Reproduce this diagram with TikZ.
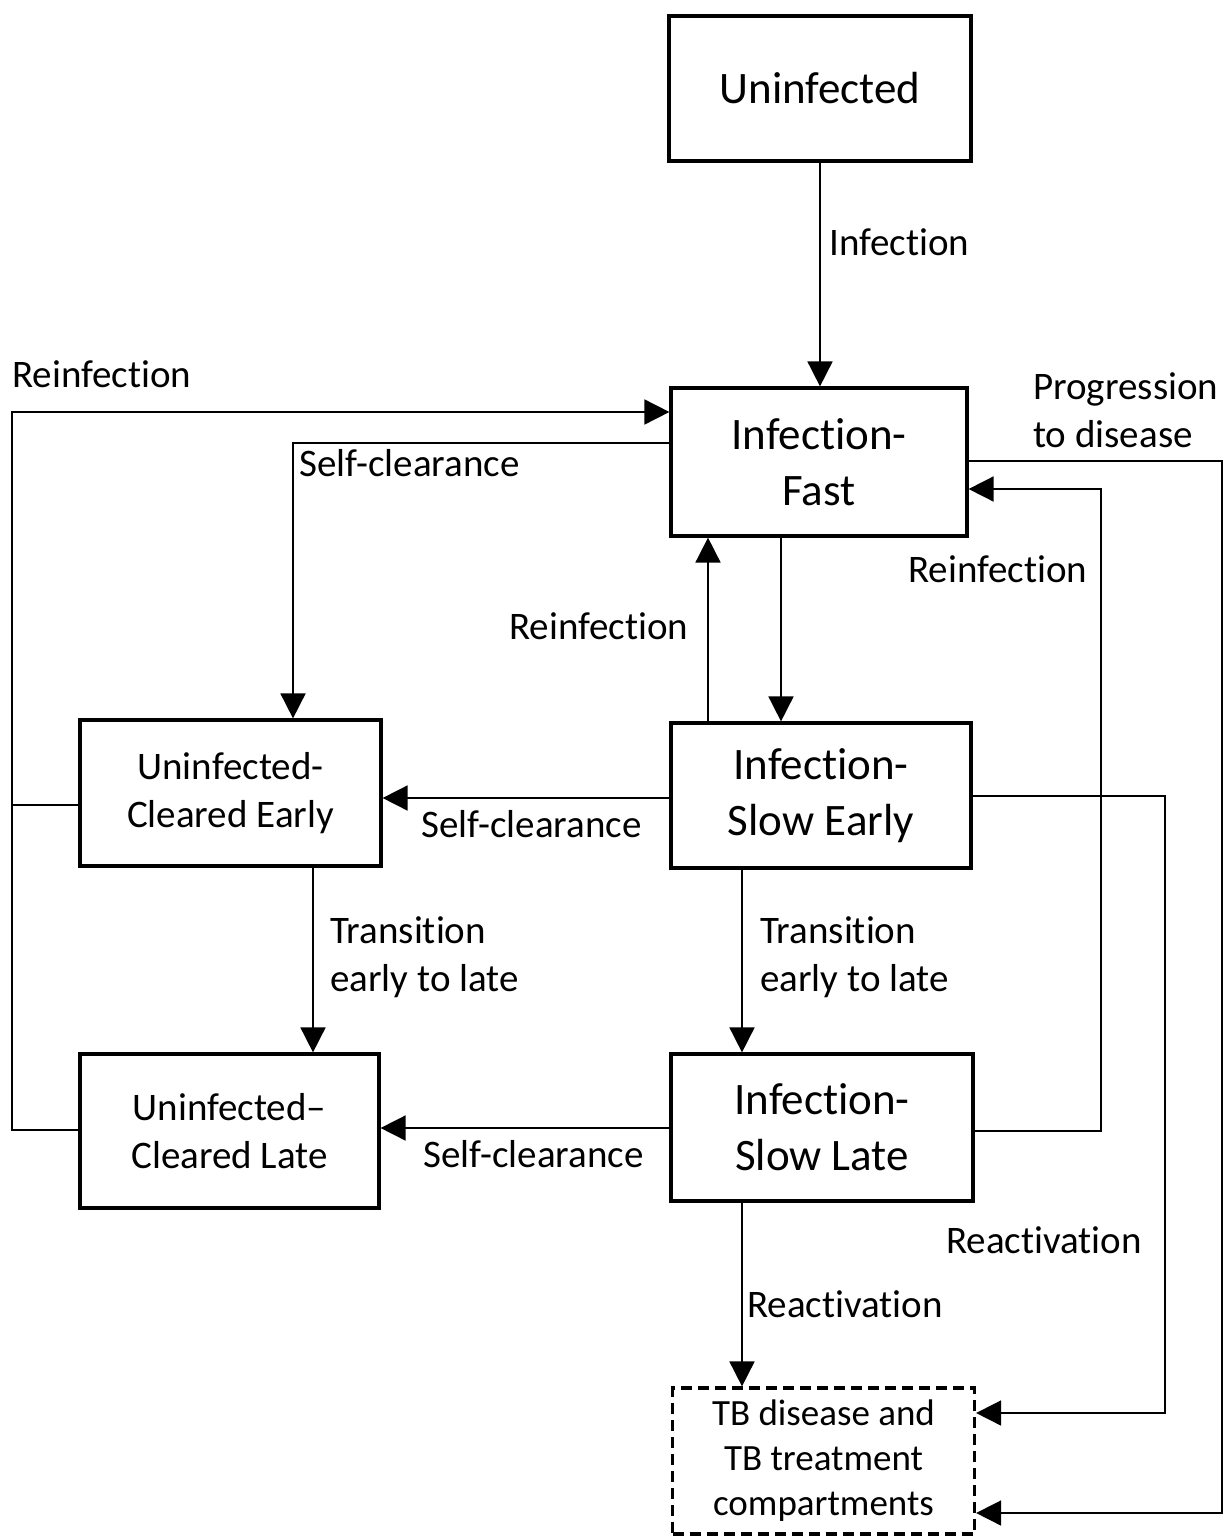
\documentclass[tikz,border=0pt]{standalone}
\usepackage{fontspec}
\setmainfont{Carlito}[Ligatures=NoCommon]
\usetikzlibrary{arrows.meta}
\begin{document}
\begin{tikzpicture}[x=1pt,y=-1pt,
  box/.style={draw,line width=3.2pt,inner sep=0pt,align=center},
  bigbox/.style={box,font=\fontsize{45}{56}\selectfont},
  smallbox/.style={box,font=\fontsize{39}{48}\selectfont},
  tbbox/.style={box,dash pattern=on 11pt off 6pt,font=\fontsize{37}{45}\selectfont},
  lbl/.style={inner sep=0pt,anchor=west,align=left,font=\fontsize{39}{48}\selectfont},
  line/.style={line width=1.7pt},
  arr/.style={line,-{Triangle[length=25pt,width=25pt]}}]
\useasboundingbox (0,0) rectangle (1226,1536);
% nodes
\node[bigbox,minimum width=302pt,minimum height=145pt] (U) at (820,88.5) {Uninfected};
\node[bigbox,minimum width=296pt,minimum height=148pt] (F) at (819,462) {Infection-\\Fast};
\node[smallbox,minimum width=301pt,minimum height=146pt] (CE) at (230.5,793) {Uninfected-\\Cleared Early};
\node[bigbox,minimum width=300pt,minimum height=145pt] (SE) at (821,795.5) {Infection-\\Slow Early};
\node[smallbox,minimum width=299pt,minimum height=154pt] (CL) at (229.5,1131) {Uninfected--\\Cleared Late};
\node[bigbox,minimum width=302pt,minimum height=147pt] (SL) at (822,1127.5) {Infection-\\Slow Late};
\node[tbbox,minimum width=302pt,minimum height=146pt] (TB) at (823.5,1461) {TB disease and\\TB treatment\\compartments};
% helper coordinates
\coordinate (L) at (12,412);
\coordinate (yA) at (0,805);
\coordinate (yB) at (0,1130);
\coordinate (yC) at (0,443);
\coordinate (xC) at (293,0);
\coordinate (x781) at (781,0);
\coordinate (x708) at (708,0);
\coordinate (y798) at (0,798);
\coordinate (x313) at (313,0);
\coordinate (x742) at (742,0);
\coordinate (y1128) at (0,1128);
\coordinate (y1131) at (0,1131);
\coordinate (R1) at (1101,489);
\coordinate (R2) at (1165,796);
\coordinate (y1413) at (0,1413);
\coordinate (R3) at (1222,461);
\coordinate (y1513) at (0,1513);
% connectors
\draw[arr] (U.south) -- (U.south |- F.north);
\draw[line] (CE.west |- yA) -- (L |- yA);
\draw[arr] (CL.west |- yB) -- (L |- yB) -- (L) -- (F.west |- L);
\draw[arr] (F.west |- yC) -| (CE.north -| xC);
\draw[arr] (F.south -| x781) -- (SE.north -| x781);
\draw[arr] (SE.north -| x708) -- (F.south -| x708);
\draw[arr] (SE.west |- y798) -- (CE.east |- y798);
\draw[arr] (CE.south -| x313) -- (CL.north -| x313);
\draw[arr] (SE.south -| x742) -- (SL.north -| x742);
\draw[arr] (SL.west |- y1128) -- (CL.east |- y1128);
\draw[arr] (SL.east |- y1131) -| (R1) -- (F.east |- R1);
\draw[arr] (SE.east |- R2) -- (R2) |- (TB.east |- y1413);
\draw[arr] (SL.south -| x742) -- (TB.north -| x742);
\draw[arr] (F.east |- R3) -- (R3) |- (TB.east |- y1513);
% labels
\node[lbl] (l1) at (829,242) {Infection};
\node[lbl] (l2) at (12,374) {Reinfection};
\node[lbl] (l3) at (299,463) {Self-clearance};
\node[lbl] (l4) at (509,626) {Reinfection};
\node[lbl] (l5) at (908,569) {Reinfection};
\node[lbl] (l6) at (1033,410) {Progression\\to disease};
\node[lbl] (l7) at (421,824) {Self-clearance};
\node[lbl] (l8) at (330,957) {Transition\\early to late};
\node[lbl] (l9) at (760,957) {Transition\\early to late};
\node[lbl] (l10) at (423,1154) {Self-clearance};
\node[lbl] (l11) at (946,1240) {Reactivation};
\node[lbl] (l12) at (747,1304) {Reactivation};
\end{tikzpicture}
\end{document}
